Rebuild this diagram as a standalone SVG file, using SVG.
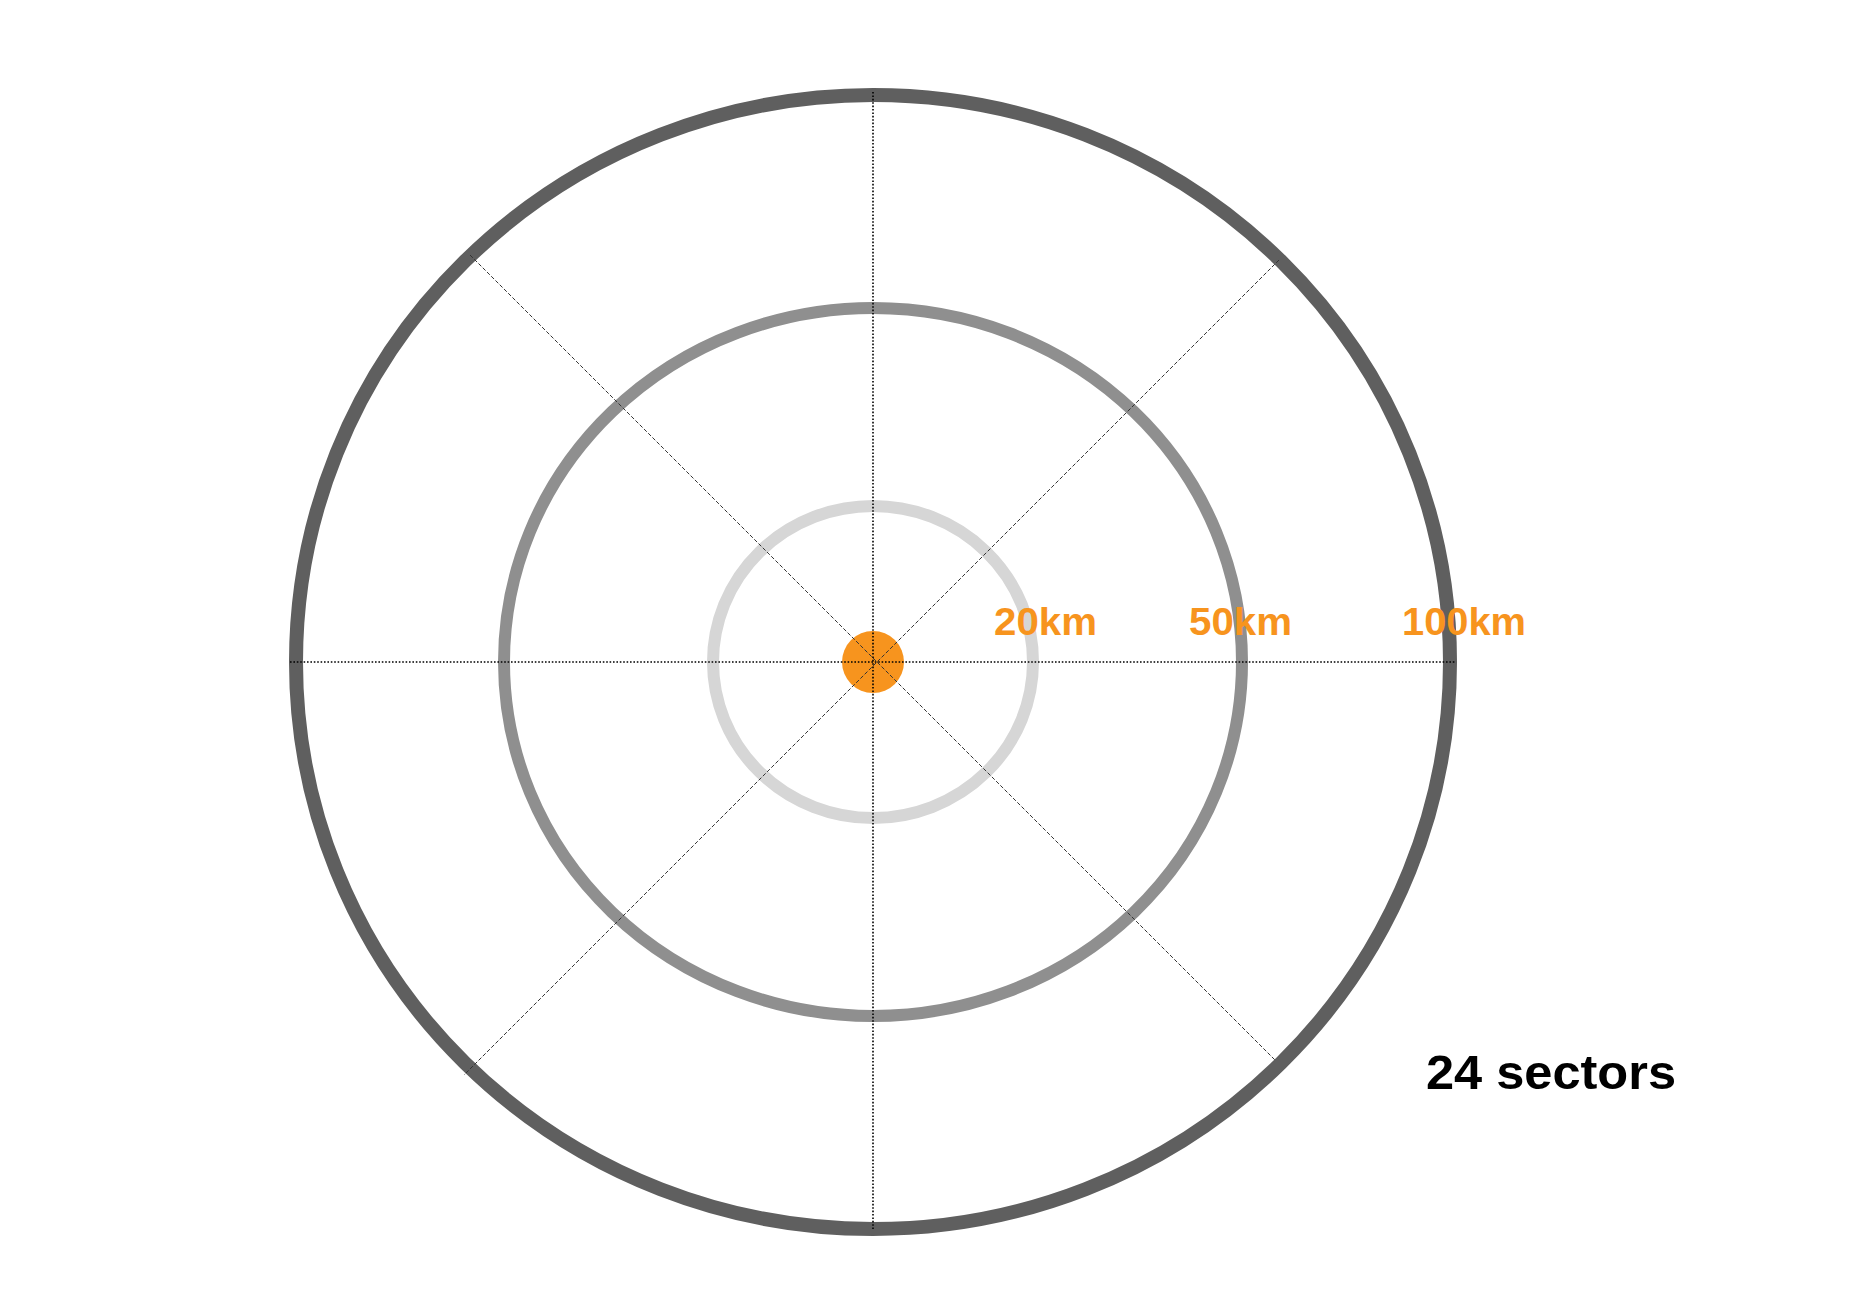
<svg xmlns="http://www.w3.org/2000/svg" width="1852" height="1306" viewBox="0 0 1852 1306">
<style>
.ring{fill:none}
.axis{stroke:#000;stroke-width:1.6;stroke-dasharray:1.6 1.8;fill:none}
.diag{stroke:#333;stroke-width:1;stroke-dasharray:4 2;fill:none}
.km{font-family:"Liberation Sans",Arial,sans-serif;font-weight:bold;font-size:39px;fill:#F7941E}
.note{font-family:"Liberation Sans",Arial,sans-serif;font-weight:bold;font-size:48px;fill:#000}
</style>
<rect width="1852" height="1306" fill="#fff"/>
<g id="ring-100km"><ellipse class="ring" cx="873" cy="662" rx="577" ry="567" stroke="#5f5f5f" stroke-width="14"/></g>
<g id="ring-50km"><ellipse class="ring" cx="873" cy="662" rx="369" ry="354" stroke="#8f8f8f" stroke-width="12"/></g>
<g id="ring-20km"><ellipse class="ring" cx="873" cy="662" rx="160" ry="156" stroke="#d6d6d6" stroke-width="12"/></g>
<g id="center"><circle cx="873" cy="662" r="31" fill="#F7941E"/></g>
<g id="connectors">
<line class="diag" x1="470" y1="255" x2="1276" y2="1061"/>
<line class="diag" x1="1279" y1="260" x2="464" y2="1075"/>
<line class="axis" x1="873" y1="92" x2="873" y2="1229"/>
<line class="axis" x1="290" y1="662" x2="1456" y2="662"/>
</g>
<g id="labels">
<text class="km" x="994" y="635" textLength="103" lengthAdjust="spacingAndGlyphs">20km</text>
<text class="km" x="1189" y="635" textLength="103" lengthAdjust="spacingAndGlyphs">50km</text>
<text class="km" x="1402" y="635" textLength="124" lengthAdjust="spacingAndGlyphs">100km</text>
<text class="note" x="1426" y="1089" textLength="250" lengthAdjust="spacingAndGlyphs">24 sectors</text>
</g>
</svg>
